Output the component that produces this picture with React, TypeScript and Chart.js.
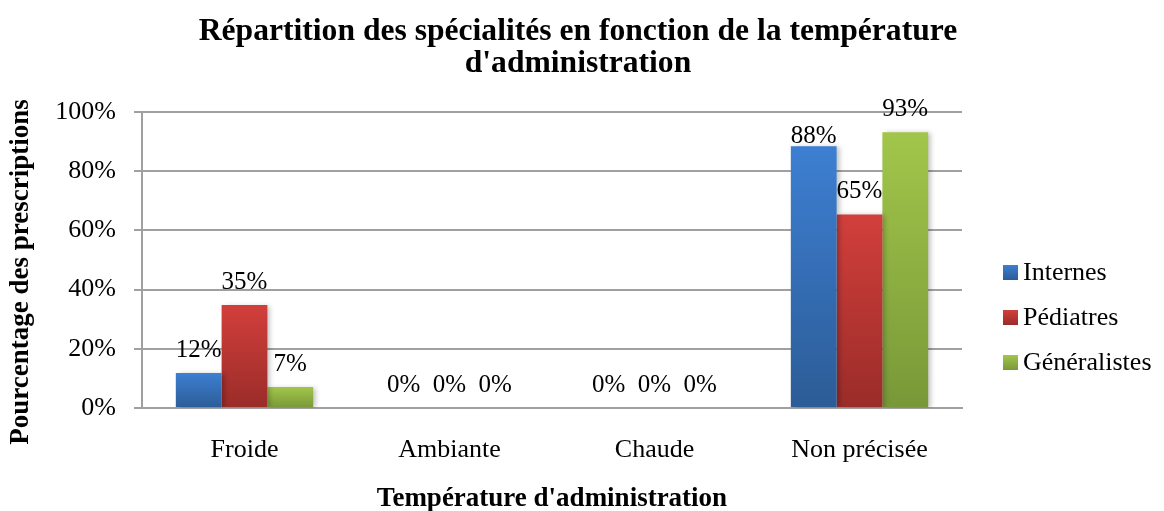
import { useEffect, useRef } from 'react';
import { Chart, registerables } from 'chart.js';

Chart.register(...registerables);

const categories = ['Froide', 'Ambiante', 'Chaude', 'Non précisée'];
const seriesNames = ['Internes', 'Pédiatres', 'Généralistes'];
const internes = [11.8, 0, 0, 88.4];
const pediatres = [34.8, 0, 0, 65.4];
const generalistes = [7.1, 0, 0, 93.2];
const yTicks = [0, 20, 40, 60, 80, 100];
const titleLines = ['Répartition des spécialités en fonction de la température', "d'administration"];
const xTitle = "Température d'administration";
const yTitle = 'Pourcentage des prescriptions';

const SERIF = "'Liberation Serif', 'Times New Roman', serif";
const GRID = '#a0a0a0';
const palettes = [
  { top: '#3d7fd2', bottom: '#2c5c96', mid: '#3570b8' },
  { top: '#d23f3b', bottom: '#9a2c29', mid: '#b9372f' },
  { top: '#a2c64b', bottom: '#789838', mid: '#8eb242' },
];

const gradientFor = (i: number) => (ctx: any) => {
  const p = palettes[i];
  const chart = ctx.chart;
  if (!chart.chartArea || ctx.type !== 'data') return p.mid;
  const y = chart.scales.y;
  const top = y.getPixelForValue(ctx.raw);
  const bottom = y.getPixelForValue(0);
  if (bottom - top < 1) return p.mid;
  const g = chart.ctx.createLinearGradient(0, top, 0, bottom);
  g.addColorStop(0, p.top);
  g.addColorStop(1, p.bottom);
  return g;
};

const barDecor = {
  id: 'barDecor',
  beforeDatasetsDraw(chart: any) {
    const c = chart.ctx;
    c.save();
    c.shadowColor = 'rgba(0,0,0,0.25)';
    c.shadowBlur = 5;
    c.shadowOffsetX = 3;
    c.shadowOffsetY = 1;
  },
  afterDatasetsDraw(chart: any) {
    const c = chart.ctx;
    c.restore();
    c.save();
    c.font = `25px ${SERIF}`;
    c.fillStyle = '#000';
    c.textAlign = 'center';
    c.textBaseline = 'alphabetic';
    chart.data.datasets.forEach((ds: any, di: number) => {
      const meta = chart.getDatasetMeta(di);
      meta.data.forEach((bar: any, i: number) => {
        const v = ds.data[i];
        // Excel nudged the "88%" label down next to the taller neighbour
        const gap = di === 0 && i === 3 ? 3 : 16;
        c.fillText(`${Math.round(v)}%`, bar.x, bar.y - gap);
      });
    });
    c.restore();
  },
};

const texts = {
  id: 'texts',
  afterDraw(chart: any) {
    const c = chart.ctx;
    const a = chart.chartArea;
    c.save();
    c.fillStyle = '#000';
    // main title
    c.font = `bold 31.6px ${SERIF}`;
    c.textAlign = 'center';
    c.textBaseline = 'alphabetic';
    const tx = chart.width / 2 - 4;
    titleLines.forEach((line, i) => c.fillText(line, tx, 40 + i * 32));
    // y axis title
    c.save();
    c.font = `bold 27px ${SERIF}`;
    c.translate(28, (a.top + a.bottom) / 2 + 12);
    c.rotate(-Math.PI / 2);
    c.fillText(yTitle, 0, 0);
    c.restore();
    // legend
    const x0 = a.right + 41;
    const midY = a.bottom - 91;
    const step = 45;
    c.font = `26px ${SERIF}`;
    c.textAlign = 'left';
    c.textBaseline = 'middle';
    seriesNames.forEach((name, i) => {
      const cy = midY + (i - 1) * step;
      const p = palettes[i];
      const g = c.createLinearGradient(0, cy - 7, 0, cy + 8);
      g.addColorStop(0, p.top);
      g.addColorStop(1, p.bottom);
      c.fillStyle = g;
      c.fillRect(x0, cy - 7, 15, 15);
      c.fillStyle = '#000';
      c.fillText(name, x0 + 20, cy + 1);
    });
    c.restore();
  },
};

export default function App() {
  const ref = useRef<HTMLCanvasElement | null>(null);
  useEffect(() => {
    document.body.style.margin = '0';
    const canvas = ref.current;
    if (!canvas) return;
    const seriesValues = [internes, pediatres, generalistes];
    const chart = new Chart(canvas, {
      type: 'bar',
      data: {
        labels: categories,
        datasets: seriesNames.map((name, i) => ({
          label: name,
          data: seriesValues[i],
          backgroundColor: gradientFor(i),
          borderWidth: 0,
          categoryPercentage: 0.67,
          barPercentage: 1,
        })),
      },
      options: {
        animation: false,
        responsive: false,
        maintainAspectRatio: false,
        layout: { padding: { left: 0, right: 202, top: 112, bottom: 0 } },
        plugins: {
          legend: { display: false },
          tooltip: { enabled: false },
          title: { display: false },
        },
        scales: {
          x: {
            afterFit: (s: any) => {
              s.height = 103;
            },
            grid: { display: false },
            border: { display: true, color: GRID, width: 2 },
            ticks: { color: '#000', font: { family: SERIF, size: 26 }, padding: 19 },
            title: {
              display: true,
              text: xTitle,
              color: '#000',
              font: { family: SERIF, size: 27, weight: 'bold', lineHeight: 0.85 },
              padding: { top: 0, bottom: 0 },
            },
          },
          y: {
            min: 0,
            max: 100,
            afterFit: (s: any) => {
              s.width = 142;
            },
            afterBuildTicks: (s: any) => {
              s.ticks = yTicks.map((v) => ({ value: v }));
            },
            ticks: {
              color: '#000',
              font: { family: SERIF, size: 26 },
              padding: 18,
              callback: (v: any) => `${v}%`,
            },
            grid: { color: GRID, lineWidth: 2, tickLength: 8, drawTicks: true },
            border: { display: true, color: GRID, width: 2 },
            title: { display: false },
          },
        },
      },
      plugins: [barDecor, texts],
    });
    return () => chart.destroy();
  }, []);
  return (
    <div style={{ width: 1164, height: 511 }}>
      <canvas ref={ref} width={1164} height={511} style={{ display: 'block' }} />
    </div>
  );
}
